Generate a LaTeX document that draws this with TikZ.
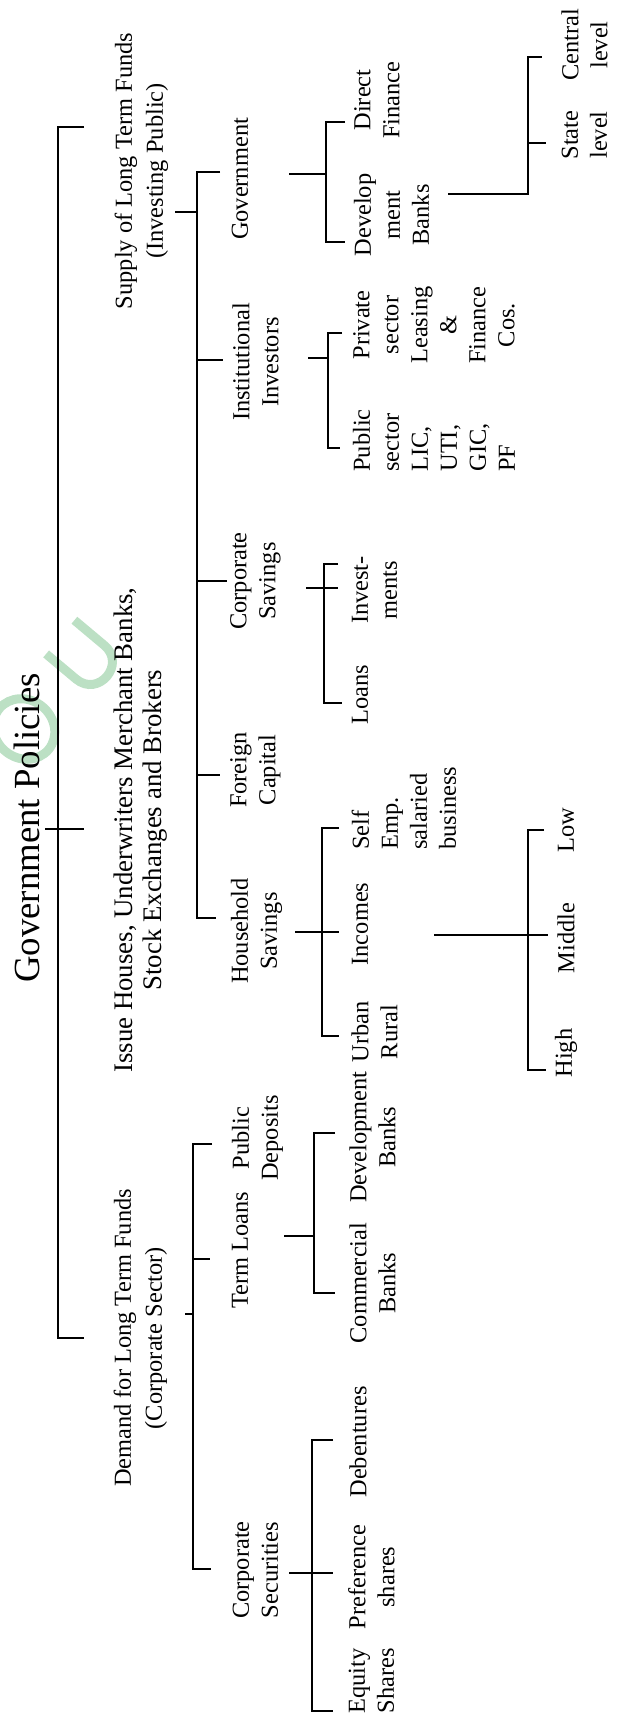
\documentclass[tikz,border=0pt]{standalone}
\usepackage{fontspec}
\setmainfont{Liberation Serif}
\setsansfont{Liberation Sans}
\definecolor{wmgreen}{RGB}{188,224,196}
\begin{document}
\begin{tikzpicture}[x=0.5pt,y=-0.5pt,
  lbl/.style={rotate=90, inner sep=0pt, align=center, font=\fontsize{12.2}{14.5}\selectfont},
  toplbl/.style={lbl, font=\fontsize{12.2}{15.5}\selectfont},
  gpol/.style={lbl, font=\fontsize{18.4}{20}\selectfont},
  wmark/.style={draw=wmgreen, line width=4.5pt},
  ln/.style={line width=0.9pt},
  spine/.style={line width=1.1pt}]
\useasboundingbox (0,0) rectangle (616,1728);
% watermark (logo letters O and U)
\begin{scope}[shift={(24,729)}, rotate=50]
  \draw[wmark] (0,0) ellipse[x radius=29, y radius=32];
\end{scope}
\begin{scope}[shift={(84,657)}, rotate=50]
  \draw[wmark] (-22,-31) -- (-22,8) .. controls (-22,37.3) and (22,37.3) .. (22,8) -- (22,-31);
\end{scope}

% level 0 and 1
\node[gpol] (gp) at (27,828) {Government Policies};
\node[toplbl] (supply) at (141.5,171) {Supply of Long Term Funds\\(Investing Public)};
\node[toplbl, font=\fontsize{13.4}{14.5}\selectfont] (issue) at (140.5,830) {Issue Houses, Underwriters Merchant Banks,\\Stock Exchanges and Brokers};
\node[toplbl] (demand) at (140.5,1338) {Demand for Long Term Funds\\(Corporate Sector)};

% level 2
\node[lbl] (gov) at (240,179) {Government};
\node[lbl] (inst) at (255.5,362) {Institutional\\Investors};
\node[lbl] (csav) at (255.5,581) {Corporate\\Savings};
\node[lbl] (fcap) at (255.5,770) {Foreign\\Capital};
\node[lbl] (hsav) at (256.5,931) {Household\\Savings};
\node[lbl] (pdep) at (257.5,1138) {Public\\Deposits};
\node[lbl] (tloan) at (240,1250) {Term Loans};
\node[lbl] (csec) at (255.5,1570) {Corporate\\Securities};

% level 3 and 4
\node[lbl] (dfin) at (377,100) {Direct\\Finance};
\node[lbl] (dbank) at (391.5,215) {Develop\\ment\\Banks};
\node[lbl] (state) at (584.5,135) {State\\level};
\node[lbl] (central) at (584.5,45) {Central\\level};
\node[lbl] (priv) at (434,325) {Private\\sector\\Leasing\\\&\\Finance\\Cos.};
\node[lbl, align=left, anchor=west] (pub) at (434,472) {Public\\sector\\LIC,\\UTI,\\GIC,\\PF};
\node[lbl] (inv) at (374.5,590) {Invest-\\ments};
\node[lbl] (loans) at (360,695) {Loans};
\node[lbl, align=left, anchor=west] (self) at (404,850) {Self\\Emp.\\salaried\\business};
\node[lbl] (inc) at (360,924) {Incomes};
\node[lbl] (urban) at (374.5,1032) {Urban\\Rural};
\node[lbl] (low) at (566,830) {Low};
\node[lbl] (mid) at (566,938) {Middle};
\node[lbl] (high) at (566,1053) {High};
\node[lbl] (devb) at (372.5,1137) {Development\\Banks};
\node[lbl] (comb) at (372.5,1283) {Commercial\\Banks};
\node[lbl] (deb) at (358,1442) {Debentures};
\node[lbl] (pref) at (371.5,1577) {Preference\\shares};
\node[lbl] (eq) at (371.5,1681) {Equity\\Shares};

% spine
\draw[spine] (84,127) -- (58,127) -- (58,1338) -- (84,1338);
\draw[spine] (45,829) -- (84,829);

% supply bracket
\draw[ln] (220,172) -- (197,172) -- (197,918) -- (216,918);
\draw[ln] (197,360) -- (223,360);
\draw[ln] (197,581) -- (227,581);
\draw[ln] (197,775) -- (220,775);
\draw[ln] (175,212) -- (197,212);

% demand bracket
\draw[ln] (212,1144) -- (193,1144) -- (193,1569) -- (211,1569);
\draw[ln] (193,1259) -- (210,1259);
\draw[ln] (185,1314) -- (193,1314);

% government children
\draw[ln] (345,122) -- (326,122) -- (326,242) -- (345,242);
\draw[ln] (289,174) -- (326,174);
% development banks children
\draw[ln] (448,194) -- (528,194) -- (528,57) -- (542,57);
\draw[ln] (528,143) -- (546,143);

% institutional children
\draw[ln] (342,333) -- (328,333) -- (328,448) -- (340,448);
\draw[ln] (308,358) -- (328,358);

% corporate savings children
\draw[ln] (338,564) -- (324,564) -- (324,703) -- (342,703);
\draw[ln] (306,588) -- (338,588);

% household children
\draw[ln] (339,828) -- (322,828) -- (322,1036) -- (339,1036);
\draw[ln] (295,932) -- (339,932);

% incomes children
\draw[ln] (544,830) -- (528,830) -- (528,1070) -- (546,1070);
\draw[ln] (434,935) -- (548,935);

% term loans children
\draw[ln] (335,1133) -- (314,1133) -- (314,1293) -- (335,1293);
\draw[ln] (284,1236) -- (314,1236);

% corporate securities children
\draw[ln] (333,1440) -- (312,1440) -- (312,1711) -- (333,1711);
\draw[ln] (289,1573) -- (333,1573);
\end{tikzpicture}
\end{document}
